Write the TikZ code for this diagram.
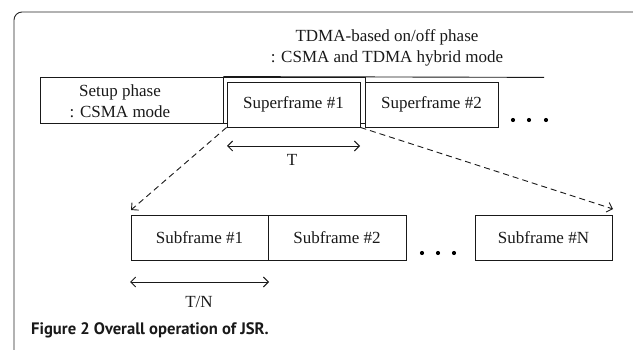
\documentclass[tikz,border=0pt]{standalone}
\usepackage{fontspec}
\setmainfont{Liberation Serif}
\newfontfamily\capfont{PT Sans}
\usetikzlibrary{arrows.meta}

\begin{document}
\begin{tikzpicture}[x=1pt,y=-1pt,
  frameline/.style={draw=black!85, line width=0.9pt},
  thin/.style={draw=black!90, line width=0.9pt},
  box/.style={thin, fill=white, inner sep=0pt},
  lbl/.style={font=\fontsize{17}{21}\selectfont, inner sep=0pt, align=center, text=black!90},
  barb/.tip={Straight Barb[length=5pt,width=10pt]},
  span arrow/.style={thin, barb-barb},
  zoom line/.style={thin, dash pattern=on 6pt off 4pt, -barb},
  dot/.style={circle, fill=black, inner sep=0pt, minimum size=4.2pt}]

\useasboundingbox (0,0) rectangle (633,350);

% outer frame, only its top-left corner lies on the page
\draw[frameline, rounded corners=8pt] (14,360) -- (14,12) -- (650,12);

% top row: setup phase and the TDMA-based phase
\node[box, minimum width=183pt, minimum height=46pt] (setup) at (131.5,100) {};
\node[lbl] (setuptext) at (120,101) {Setup phase\\: CSMA mode};
\coordinate (phaseend) at (544,77.4);
\draw[thin] (setup.north east) -- (phaseend);
\node[thin, minimum width=142pt, minimum height=46pt, inner sep=0pt] (phase) at (294,100) {};
\node[lbl] (phasetext) at (387,48) {TDMA-based on/off phase\\: CSMA and TDMA hybrid mode};

\node[box, minimum width=133pt, minimum height=45pt] (sf1) at (293.5,104.5) {};
\node[lbl] (sf1text) at (sf1.center) {Superframe \#1};
\node[box, minimum width=133pt, minimum height=45pt] (sf2) at (431.5,104.5) {};
\node[lbl] (sf2text) at (sf2.center) {Superframe \#2};

\node[dot] (d1) at (513,120) {};
\node[dot] (d2) at (529,120) {};
\node[dot] (d3) at (546,120) {};

% duration of one superframe
\coordinate (tl) at (227,146);
\coordinate (tr) at (360,146);
\draw[span arrow] (tl) -- (tr);
\node[lbl] (tlabel) at (292,160) {T};

% bottom row: subframes of one superframe
\node[box, minimum width=137pt, minimum height=45pt] (sub1) at (199.5,237.5) {};
\node[lbl] (sub1text) at (sub1.center) {Subframe \#1};
\node[box, minimum width=138pt, minimum height=45pt] (sub2) at (337,237.5) {};
\node[lbl] (sub2text) at (sub2.center) {Subframe \#2};
\node[box, minimum width=137pt, minimum height=45pt] (subN) at (543.5,237.5) {};
\node[lbl] (subNtext) at (subN.center) {Subframe \#N};

\node[dot] (e1) at (422,253) {};
\node[dot] (e2) at (438,253) {};
\node[dot] (e3) at (454,253) {};

% zoom from superframe #1 to its subframes
\coordinate (zl) at (131,210);
\coordinate (zr) at (613,209);
\draw[zoom line] (sf1.south west) -- (zl);
\draw[zoom line] (sf1.south east) -- (zr);

% duration of one subframe
\coordinate (nl) at (130,282);
\coordinate (nr) at (269,282);
\draw[span arrow] (nl) -- (nr);
\node[lbl] (nlabel) at (199,302) {T/N};

% caption
\node[anchor=base west, inner sep=0pt, text=black!90,
      font=\capfont\bfseries\fontsize{16.6}{18}\selectfont] (caption) at (31,335)
  {Figure 2 Overall operation of JSR.};
\end{tikzpicture}
\end{document}
